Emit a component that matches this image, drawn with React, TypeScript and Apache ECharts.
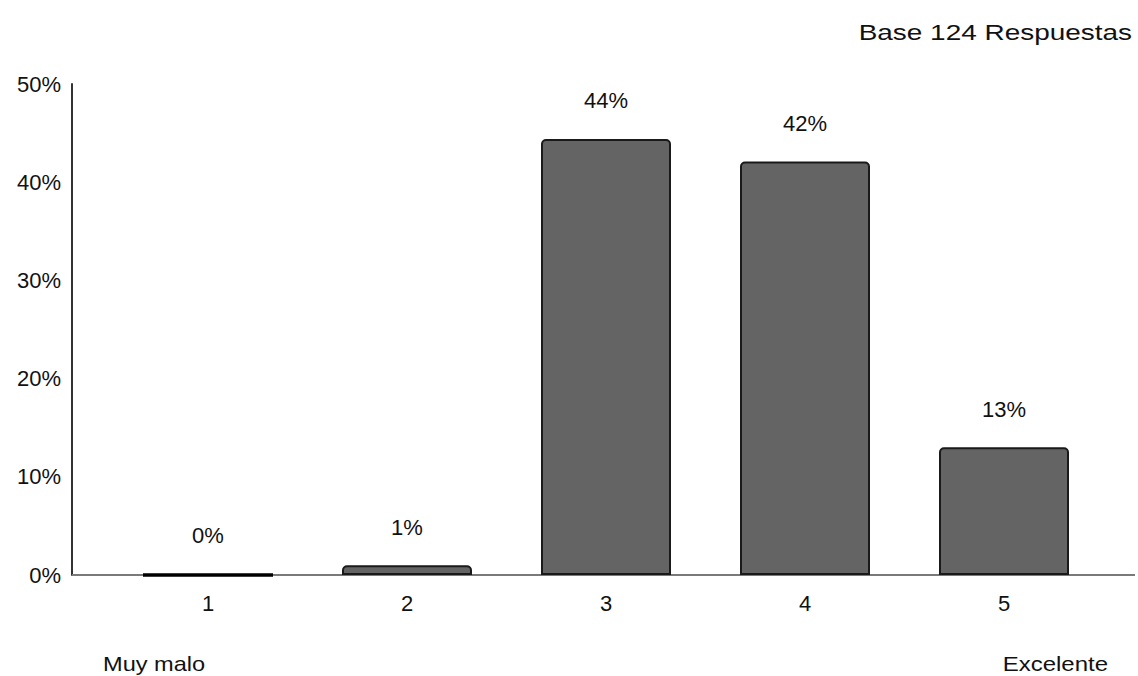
import React, { useEffect, useRef } from "react";
import * as echarts from "echarts";

const categories = ["1", "2", "3", "4", "5"];
const values = [0, 1.0, 44.4, 42.1, 13.0];
const yTicks = [0, 10, 20, 30, 40, 50];
const baseText = "Base 124 Respuestas";
const leftEndLabel = "Muy malo";
const rightEndLabel = "Excelente";

const FONT = "'Liberation Sans', Arial, sans-serif";

export default function App() {
  const ref = useRef<HTMLDivElement>(null);
  useEffect(() => {
    document.body.style.margin = "0";
    if (!ref.current) return;
    const chart = echarts.init(ref.current, undefined, { renderer: "svg" });
    chart.setOption({
      animation: false,
      backgroundColor: "#ffffff",
      textStyle: { fontFamily: FONT },
      grid: { left: 108.5, right: 34.5, top: 84, bottom: 101 },
      xAxis: {
        type: "category",
        data: categories,
        axisLine: { show: false },
        axisTick: { show: false },
        axisLabel: { color: "#111111", fontSize: 22, fontFamily: FONT, margin: 17 },
      },
      yAxis: {
        type: "value",
        min: yTicks[0],
        max: yTicks[yTicks.length - 1],
        interval: 10,
        offset: 36.5,
        splitLine: { show: false },
        axisTick: { show: false },
        axisLine: { show: true, lineStyle: { color: "#333333", width: 2 } },
        axisLabel: {
          color: "#111111",
          fontSize: 22,
          fontFamily: FONT,
          margin: 11,
          formatter: "{value}%",
        },
      },
      graphic: [
        {
          type: "line",
          shape: { x1: 72, y1: 575, x2: 1135, y2: 575 },
          style: { stroke: "#7a7a7a", lineWidth: 2 },
          z: 1,
        },
        {
          type: "text",
          x: 1132,
          y: 32,
          scaleX: 1.3,
          style: {
            text: baseText,
            fontSize: 21.5,
            fontFamily: FONT,
            fill: "#111111",
            align: "right",
            verticalAlign: "middle",
          },
        },
        {
          type: "text",
          x: 103,
          y: 664,
          scaleX: 1.15,
          style: {
            text: leftEndLabel,
            fontSize: 20.5,
            fontFamily: FONT,
            fill: "#111111",
            align: "left",
            verticalAlign: "middle",
          },
        },
        {
          type: "text",
          x: 1108,
          y: 664,
          scaleX: 1.17,
          style: {
            text: rightEndLabel,
            fontSize: 20.5,
            fontFamily: FONT,
            fill: "#111111",
            align: "right",
            verticalAlign: "middle",
          },
        },
      ],
      series: [
        {
          type: "bar",
          data: values.map((v, i) =>
            i === 0 ? { value: v, itemStyle: { borderWidth: 3.5, borderColor: "#000000" } } : v
          ),
          barWidth: 130,
          z: 3,
          itemStyle: {
            color: "#646464",
            borderColor: "#1a1a1a",
            borderWidth: 2,
            borderRadius: [4, 4, 0, 0],
          },
          label: {
            show: true,
            position: "top",
            distance: 27,
            fontSize: 22,
            fontFamily: FONT,
            color: "#111111",
            formatter: (p: any) => Math.round(p.value) + "%",
          },
        },
      ],
    });
    return () => chart.dispose();
  }, []);
  return <div ref={ref} style={{ width: 1138, height: 676 }} />;
}
